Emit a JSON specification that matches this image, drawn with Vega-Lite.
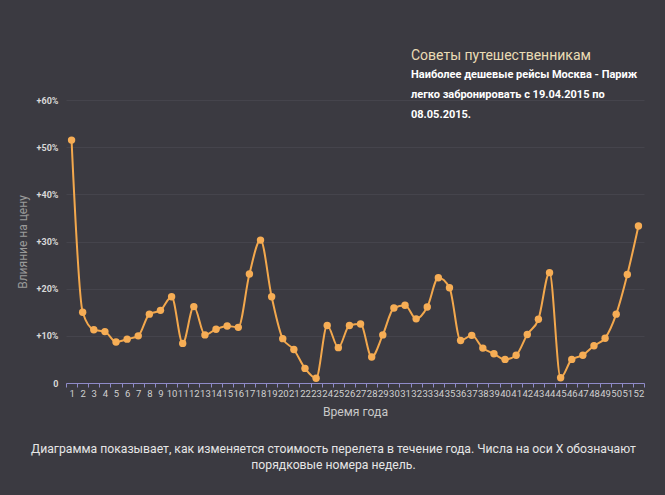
{
  "$schema": "https://vega.github.io/schema/vega-lite/v6.json",
  "autosize": {"type": "none"},
  "width": 578,
  "height": 283,
  "padding": {"left": 66, "top": 100, "right": 21, "bottom": 112},
  "background": "#3b3a41",
  "config": {
    "view": {"stroke": null},
    "font": "Roboto, Open Sans, sans-serif"
  },
  "title": {
    "text": "Советы путешественникам",
    "subtitle": ["Наиболее дешевые рейсы Москва - Париж", "легко забронировать с 19.04.2015 по", "08.05.2015."],
    "anchor": "start",
    "frame": "group",
    "dx": 345,
    "dy": 28,
    "color": "#eadcb5",
    "fontSize": 14,
    "fontWeight": "normal",
    "subtitleColor": "#ffffff",
    "subtitleFontSize": 11,
    "subtitleFontWeight": "bold",
    "subtitleLineHeight": 20,
    "subtitlePadding": 6
  },
  "data": {
    "values": [
      {"week": 1, "impact": 51.5}, {"week": 2, "impact": 15.0}, {"week": 3, "impact": 11.3}, {"week": 4, "impact": 10.9},
      {"week": 5, "impact": 8.7}, {"week": 6, "impact": 9.3}, {"week": 7, "impact": 10.0}, {"week": 8, "impact": 14.6},
      {"week": 9, "impact": 15.4}, {"week": 10, "impact": 18.3}, {"week": 11, "impact": 8.4}, {"week": 12, "impact": 16.2},
      {"week": 13, "impact": 10.2}, {"week": 14, "impact": 11.4}, {"week": 15, "impact": 12.1}, {"week": 16, "impact": 11.8},
      {"week": 17, "impact": 23.1}, {"week": 18, "impact": 30.3}, {"week": 19, "impact": 18.3}, {"week": 20, "impact": 9.4},
      {"week": 21, "impact": 7.1}, {"week": 22, "impact": 3.1}, {"week": 23, "impact": 1.0}, {"week": 24, "impact": 12.2},
      {"week": 25, "impact": 7.5}, {"week": 26, "impact": 12.2}, {"week": 27, "impact": 12.5}, {"week": 28, "impact": 5.5},
      {"week": 29, "impact": 10.2}, {"week": 30, "impact": 15.9}, {"week": 31, "impact": 16.5}, {"week": 32, "impact": 13.6},
      {"week": 33, "impact": 16.1}, {"week": 34, "impact": 22.3}, {"week": 35, "impact": 20.2}, {"week": 36, "impact": 9.0},
      {"week": 37, "impact": 10.1}, {"week": 38, "impact": 7.4}, {"week": 39, "impact": 6.2}, {"week": 40, "impact": 5.0},
      {"week": 41, "impact": 5.9}, {"week": 42, "impact": 10.3}, {"week": 43, "impact": 13.5}, {"week": 44, "impact": 23.4},
      {"week": 45, "impact": 1.1}, {"week": 46, "impact": 5.0}, {"week": 47, "impact": 5.9}, {"week": 48, "impact": 7.9},
      {"week": 49, "impact": 9.5}, {"week": 50, "impact": 14.6}, {"week": 51, "impact": 23.0}, {"week": 52, "impact": 33.3}
    ]
  },
  "encoding": {
    "y": {
      "field": "impact",
      "type": "quantitative",
      "scale": {"domain": [0, 60]},
      "axis": {
        "values": [0, 10, 20, 30, 40, 50, 60],
        "labelExpr": "datum.value == 0 ? '0' : '+' + datum.value + '%'",
        "domain": false,
        "ticks": false,
        "labelPadding": 8,
        "labelColor": "#d8d8d8",
        "labelFontSize": 9,
        "labelFontWeight": "bold",
        "gridColor": "#45444c",
        "gridWidth": 1,
        "title": "Влияние на цену",
        "titleColor": "#9a9a9a",
        "titleFontSize": 12,
        "titleFontWeight": "normal",
        "titlePadding": 7
      }
    }
  },
  "resolve": {"axis": {"x": "independent"}},
  "layer": [
    {
      "mark": {"type": "line", "color": "#f3a84d", "strokeWidth": 2, "interpolate": "monotone"},
      "encoding": {
        "x": {
          "field": "week",
          "type": "ordinal",
          "scale": {"type": "band", "paddingInner": 0, "paddingOuter": 0},
          "axis": {
            "labelAngle": 0,
            "labelOverlap": false,
            "tickBand": "extent",
            "domainColor": "#8f8bc8",
            "tickColor": "#8f8bc8",
            "tickSize": 4,
            "labelPadding": 1,
            "labelColor": "#d0d0d0",
            "labelFontSize": 9.5,
            "grid": false,
            "title": "Время года",
            "titlePadding": 8,
            "titleColor": "#c8c8c8",
            "titleFontSize": 12.2,
            "titleFontWeight": "normal"
          }
        }
      }
    },
    {
      "mark": {"type": "circle", "color": "#f6ad55", "size": 55, "opacity": 1},
      "encoding": {
        "x": {
          "field": "week",
          "type": "ordinal",
          "axis": {
            "orient": "bottom",
            "labels": false,
            "ticks": false,
            "domain": false,
            "grid": false,
            "title": ["Диаграмма показывает, как изменяется стоимость перелета в течение года. Числа на оси X обозначают", "порядковые номера недель."],
            "titleX": 267,
            "titleY": 59,
            "titleBaseline": "top",
            "titleLineHeight": 16,
            "titleColor": "#e6e6e6",
            "titleFontSize": 12.2,
            "titleFontWeight": "normal"
          }
        }
      }
    }
  ]
}
